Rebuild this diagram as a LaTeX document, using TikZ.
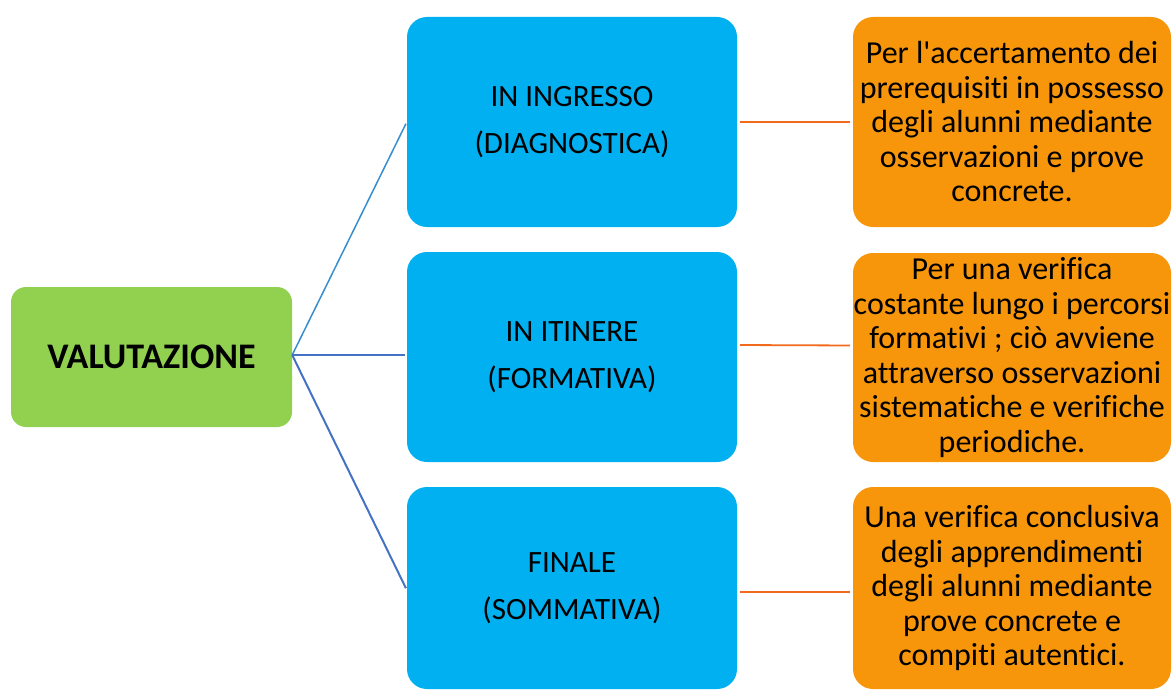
\documentclass[tikz,border=0pt]{standalone}
\usepackage{fontspec}
\setmainfont{Carlito}[Ligatures=NoCommon]
\usetikzlibrary{calc}
\definecolor{greenbox}{HTML}{92D050}
\definecolor{bluebox}{HTML}{00B0F0}
\definecolor{orangebox}{HTML}{F7960B}
\definecolor{blueline}{HTML}{4472C4}
\definecolor{orangeline}{HTML}{F26B1D}
\tikzset{
  mainbox/.style={fill=greenbox, rounded corners=15pt, minimum width=281pt, minimum height=140pt,
    inner sep=0pt, font=\fontsize{36}{40}\selectfont\bfseries, align=center},
  phasebox/.style={fill=bluebox, rounded corners=20pt, minimum width=330pt,
    inner sep=0pt, font=\fontsize{31}{47}\selectfont, align=center},
  descbox/.style={fill=orangebox, rounded corners=20pt, minimum width=318pt,
    inner sep=0pt, font=\fontsize{32}{34.5}\selectfont, align=center},
  bluelink/.style={draw=blueline, line width=2pt, shorten >=2pt},
  orangelink/.style={draw=orangeline, line width=1.8pt, shorten <=3pt, shorten >=3pt}
}
\begin{document}
\begin{tikzpicture}[x=1pt,y=-1pt]
\useasboundingbox (0,0) rectangle (1173,690);
\node[mainbox] (val) at (151.5,357) {VALUTAZIONE};
\node[phasebox, minimum height=210pt] (b1) at (572,122) {IN INGRESSO\\(DIAGNOSTICA)};
\node[phasebox, minimum height=210pt] (b2) at (572,357) {IN ITINERE\\(FORMATIVA)};
\node[phasebox, minimum height=202pt] (b3) at (572,588) {FINALE\\(SOMMATIVA)};
\node[descbox, minimum height=210pt] (o1) at (1012,122) {Per l\textquotesingle accertamento dei\\prerequisiti in possesso\\degli alunni mediante\\osservazioni e prove\\concrete.};
\node[descbox, minimum height=209pt] (o2) at (1012,357.5) {Per una verifica\\costante lungo i percorsi\\formativi ; ciò avviene\\attraverso osservazioni\\sistematiche e verifiche\\periodiche.};
\node[descbox, minimum height=202pt] (o3) at (1012,588) {Una verifica conclusiva\\degli apprendimenti\\degli alunni mediante\\prove concrete e\\compiti autentici.};
\coordinate (hub) at ($(val.east)+(0,-2)$);
\draw[bluelink, line width=1.5pt, draw=blueline!80!cyan] (hub) -- (b1.west);
\draw[bluelink] (hub) -- ($(b2.west)+(0,-2)$);
\draw[bluelink] (hub) -- ($(b3.west)+(0,2)$);
\draw[orangelink] (b1.east) -- (o1.west);
\draw[orangelink] ($(b2.east)+(0,-12)$) -- ($(o2.west)+(0,-12)$);
\draw[orangelink] ($(b3.east)+(0,4)$) -- ($(o3.west)+(0,4)$);
\end{tikzpicture}
\end{document}
